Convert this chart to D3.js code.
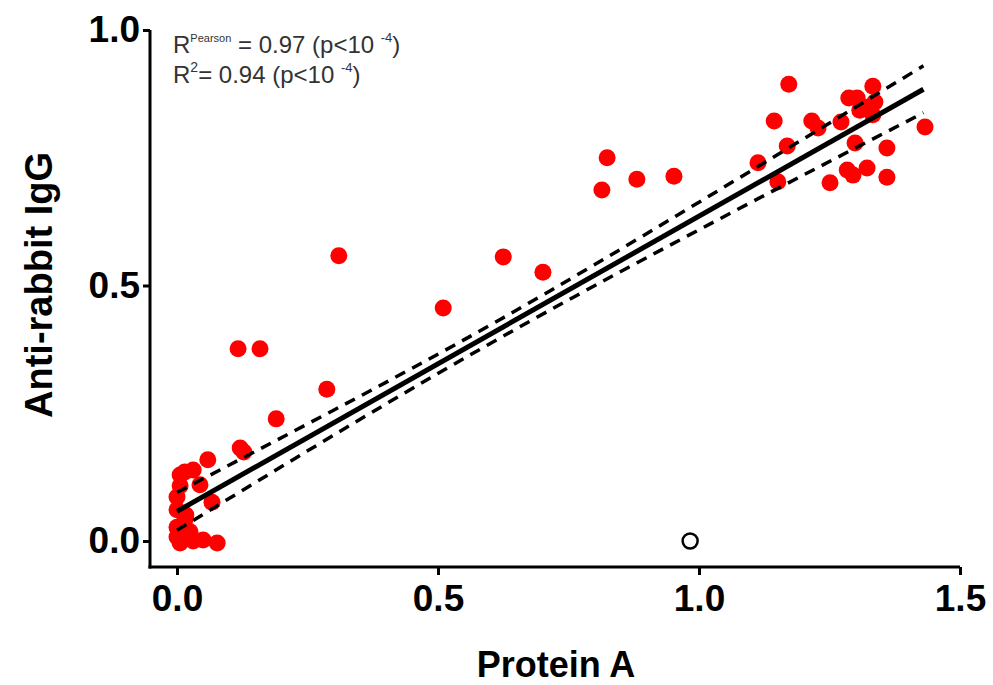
<!DOCTYPE html>
<html>
<head>
<meta charset="utf-8">
<script src="https://cdn.jsdelivr.net/npm/d3@7"></script>
<style>
  html, body { margin: 0; padding: 0; background: #fff; }
  svg { display: block; }
</style>
</head>
<body>
<div id="chart"></div>
<script>
// ---- data ----
const proteinA = [
  1.172, 1.144, 1.216, 1.228, 1.272, 1.287, 1.303, 1.333, 1.337, 1.318,
  1.308, 1.333, 1.433, 1.169, 1.299, 1.360, 1.113, 1.151, 1.251, 1.284,
  1.295, 1.322, 1.360, 0.824, 0.814, 0.881, 0.952,
  0.310, 0.625, 0.701, 0.510, 0.117, 0.159, 0.287, 0.190, 0.121, 0.128,
  0.059, 0.015, 0.031, 0.006, 0.044, 0.000, 0.067, 0.000, 0.000, 0.000,
  0.025, 0.031, 0.050, 0.077, 0.006, 0.015, 0.006, 0.017
];
const antiRabbitIgG = [
  0.894, 0.822, 0.822, 0.808, 0.820, 0.867, 0.867, 0.890, 0.859, 0.849,
  0.843, 0.834, 0.810, 0.773, 0.779, 0.769, 0.740, 0.703, 0.701, 0.726,
  0.716, 0.730, 0.712, 0.750, 0.687, 0.708, 0.714,
  0.558, 0.556, 0.526, 0.456, 0.376, 0.376, 0.297, 0.239, 0.182, 0.174,
  0.159, 0.135, 0.139, 0.129, 0.110, 0.086, 0.076, 0.061, 0.027, 0.008,
  0.018, 0.000, 0.002, -0.004, -0.004, 0.041, 0.108, 0.051
];
// excluded (open) point
const outlierX = [0.983];
const outlierY = [0.0];

// regression line and 95% confidence band
const fitX = [0.0, 1.43];
const fitY = [0.058, 0.884];
const bandX = [0.0, 0.3, 0.62, 1.0, 1.43];
const bandUpper = [0.095, 0.256, 0.434, 0.663, 0.930];
const bandLower = [0.021, 0.207, 0.398, 0.609, 0.838];

const xTicks = [0.0, 0.5, 1.0, 1.5];
const yTicks = [0.0, 0.5, 1.0];
const xTickLabels = ["0.0", "0.5", "1.0", "1.5"];
const yTickLabels = ["0.0", "0.5", "1.0"];

const xTitle = "Protein A";
const yTitle = "Anti-rabbit IgG";

// ---- drawing ----
const W = 993, H = 685;
const svg = d3.select("#chart").append("svg").attr("width", W).attr("height", H);

const axisLeftX = 150, axisBottomY = 567;
const x = d3.scaleLinear().domain([0, 1.5]).range([177, 960]);
const y = d3.scaleLinear().domain([0, 1.0]).range([541, 30]);

const font = "'Liberation Sans', Arial, Helvetica, sans-serif";

// axes lines
svg.append("line").attr("x1", axisLeftX).attr("x2", axisLeftX)
  .attr("y1", y(1.0)).attr("y2", axisBottomY + 1.5)
  .attr("stroke", "#000").attr("stroke-width", 3);
svg.append("line").attr("x1", axisLeftX - 1.5).attr("x2", x(1.5))
  .attr("y1", axisBottomY).attr("y2", axisBottomY)
  .attr("stroke", "#000").attr("stroke-width", 3);

// x ticks
const xAxis = d3.axisBottom(x).tickValues(xTicks)
  .tickFormat((d, i) => xTickLabels[i]).tickSize(8).tickPadding(10);
const gx = svg.append("g").attr("transform", `translate(0,${axisBottomY})`).call(xAxis);
gx.select(".domain").remove();
gx.selectAll(".tick line").attr("stroke", "#000").attr("stroke-width", 3);
gx.selectAll(".tick text").attr("font-family", font).attr("font-weight", "bold")
  .attr("font-size", 37).attr("fill", "#000");

// y ticks
const yAxis = d3.axisLeft(y).tickValues(yTicks)
  .tickFormat((d, i) => yTickLabels[i]).tickSize(7).tickPadding(3);
const gy = svg.append("g").attr("transform", `translate(${axisLeftX},0)`).call(yAxis);
gy.select(".domain").remove();
gy.selectAll(".tick line").attr("stroke", "#000").attr("stroke-width", 3);
gy.selectAll(".tick text").attr("font-family", font).attr("font-weight", "bold")
  .attr("font-size", 37).attr("fill", "#000");

// titles
svg.append("text").attr("x", 556).attr("y", 677).attr("text-anchor", "middle")
  .attr("font-family", font).attr("font-weight", "bold").attr("font-size", 36)
  .text(xTitle);
svg.append("text").attr("transform", "translate(52,285) rotate(-90)")
  .attr("text-anchor", "middle")
  .attr("font-family", font).attr("font-weight", "bold").attr("font-size", 38)
  .text(yTitle);

// points
svg.append("g").selectAll("circle").data(proteinA).join("circle")
  .attr("cx", d => x(d)).attr("cy", (d, i) => y(antiRabbitIgG[i]))
  .attr("r", 8.5).attr("fill", "#f00");

svg.append("g").selectAll("circle").data(outlierX).join("circle")
  .attr("cx", d => x(d)).attr("cy", (d, i) => y(outlierY[i]))
  .attr("r", 7.5).attr("fill", "#fff").attr("stroke", "#000").attr("stroke-width", 2.5);

// confidence band
const bandLine = d3.line().curve(d3.curveNatural).x(d => x(d[0])).y(d => y(d[1]));
[bandUpper, bandLower].forEach(arr => {
  svg.append("path").datum(bandX.map((v, i) => [v, arr[i]]))
    .attr("d", bandLine).attr("fill", "none").attr("stroke", "#000")
    .attr("stroke-width", 3.5).attr("stroke-dasharray", "11,8");
});

// regression line
svg.append("path").datum(fitX.map((v, i) => [v, fitY[i]]))
  .attr("d", d3.line().x(d => x(d[0])).y(d => y(d[1])))
  .attr("fill", "none").attr("stroke", "#000").attr("stroke-width", 5);

// annotation
const ann = svg.append("g").attr("font-family", font).attr("fill", "#333").attr("font-size", 24);
const t1 = ann.append("text").attr("x", 173).attr("y", 53);
t1.append("tspan").text("R");
t1.append("tspan").attr("font-size", 11).attr("dy", -11).text("Pearson");
t1.append("tspan").attr("dy", 11).text(" = 0.97 (p<10 ");
t1.append("tspan").attr("font-size", 13).attr("dy", -11).text("-4");
t1.append("tspan").attr("dy", 11).text(")");
const t2 = ann.append("text").attr("x", 173).attr("y", 83);
t2.append("tspan").text("R");
t2.append("tspan").attr("font-size", 14).attr("dy", -11).text("2");
t2.append("tspan").attr("dy", 11).text("= 0.94 (p<10 ");
t2.append("tspan").attr("font-size", 13).attr("dy", -11).text("-4");
t2.append("tspan").attr("dy", 11).text(")");
</script>
</body>
</html>
